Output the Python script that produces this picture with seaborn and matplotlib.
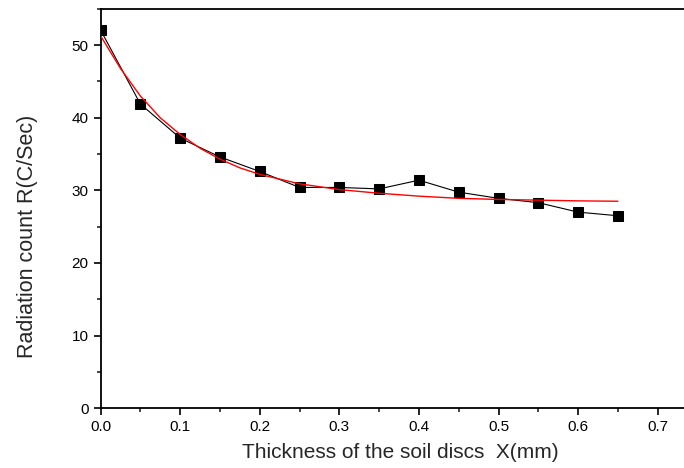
import numpy as np
import pandas as pd
import matplotlib
matplotlib.use('Agg')
import matplotlib.pyplot as plt
from matplotlib.ticker import MultipleLocator
import seaborn as sns

# measured points
thickness = [0.0, 0.05, 0.1, 0.15, 0.2, 0.25, 0.3, 0.35, 0.4, 0.45, 0.5, 0.55, 0.6, 0.65]
counts = [52.1, 41.9, 37.2, 34.6, 32.6, 30.4, 30.4, 30.2, 31.4, 29.75, 28.9, 28.3, 27.0, 26.5]

# red fitted curve
fit_x = [0.0, 0.025, 0.05, 0.075, 0.1, 0.125, 0.15, 0.175, 0.2, 0.25, 0.3,
         0.35, 0.4, 0.45, 0.5, 0.55, 0.6, 0.65]
fit_y = [51.3, 46.8, 43.0, 40.0, 37.7, 35.8, 34.3, 33.1, 32.2, 30.9, 30.1,
         29.6, 29.2, 28.9, 28.75, 28.65, 28.55, 28.5]

sns.set_style('ticks')
plt.rcParams['font.family'] = ['Liberation Sans', 'DejaVu Sans']

df = pd.DataFrame({'x': thickness, 'y': counts})
df_fit = pd.DataFrame({'x': fit_x, 'y': fit_y})

fig = plt.figure(figsize=(6.84, 4.68), dpi=100)
ax = fig.add_axes([0.147, 0.128, 0.853, 0.853])

sns.lineplot(data=df, x='x', y='y', ax=ax, color='black', linewidth=0.8,
             marker='s', markersize=7, markeredgecolor='black', zorder=2)
sns.lineplot(data=df_fit, x='x', y='y', ax=ax, color='red', linewidth=1.0, zorder=3)

ax.set_xlim(0, 0.733)
ax.set_ylim(0, 55)
ax.xaxis.set_major_locator(MultipleLocator(0.1))
ax.xaxis.set_minor_locator(MultipleLocator(0.05))
ax.yaxis.set_major_locator(MultipleLocator(10))
ax.yaxis.set_minor_locator(MultipleLocator(5))
ax.xaxis.set_major_formatter(plt.FormatStrFormatter('%.1f'))
ax.tick_params(axis='both', which='major', direction='out', length=5, width=1.2,
               labelsize=11, colors='black')
ax.tick_params(axis='both', which='minor', direction='out', length=3, width=1.2)
ax.tick_params(axis='x', which='both', top=False)
ax.tick_params(axis='y', which='both', right=False)

for s in ['left', 'bottom', 'top']:
    ax.spines[s].set_linewidth(1.3)
    ax.spines[s].set_color('black')
ax.spines['right'].set_visible(False)

ax.set_xlabel('Thickness of the soil discs  X(mm)', fontsize=15)
ax.xaxis.set_label_coords(0.514, -0.088)
ax.set_ylabel('Radiation count R(C/Sec)', fontsize=15.5)
ax.yaxis.set_label_coords(-0.108, 0.43)

fig.savefig('out.png', dpi=100)
